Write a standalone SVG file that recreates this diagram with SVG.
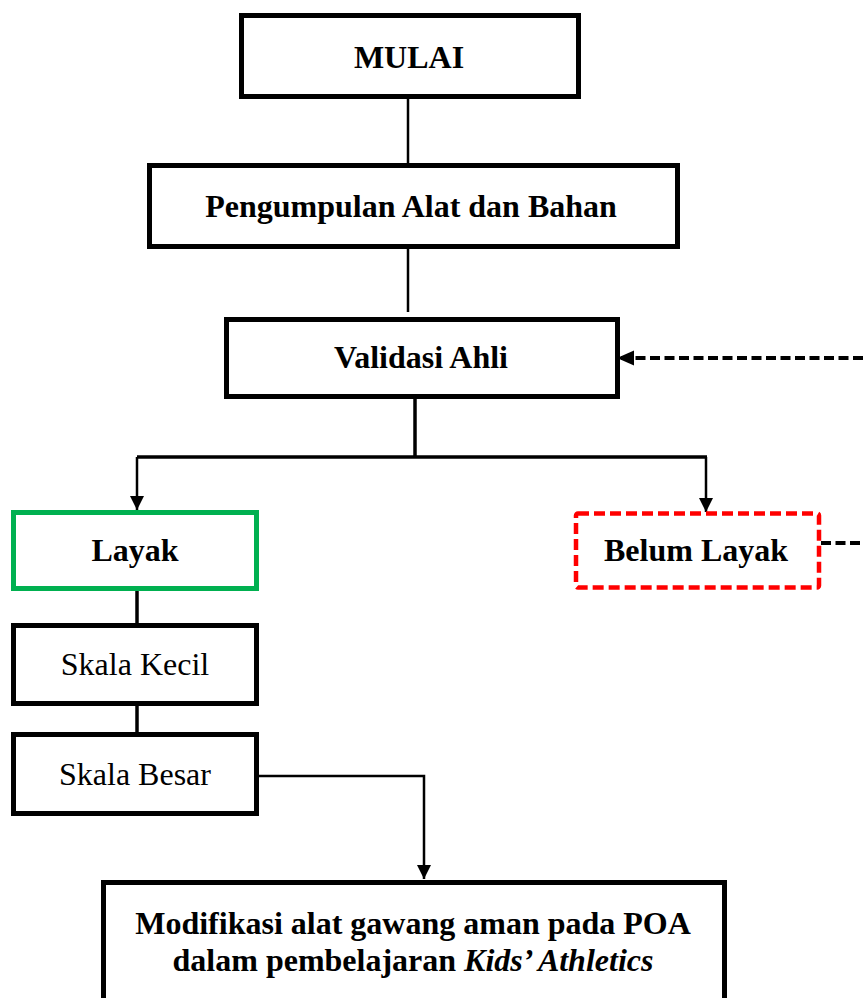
<svg xmlns="http://www.w3.org/2000/svg" width="863" height="998" viewBox="0 0 863 998">
  <style>
    .box { fill: #ffffff; stroke: #000000; stroke-width: 5; }
    .ok { fill: #ffffff; stroke: #00B050; stroke-width: 5; }
    .no { fill: #ffffff; stroke: #FF0000; stroke-width: 4.5; stroke-dasharray: 11 5; }
    .lbl { font-family: "Liberation Serif", "Times New Roman", serif; font-size: 32px; fill: #000000; text-anchor: middle; }
    .b { font-weight: bold; }
    .ln { fill: none; stroke: #000000; stroke-width: 2.5; }
    .thick { fill: none; stroke: #000000; stroke-width: 3.5; }
    .dash { fill: none; stroke: #000000; stroke-width: 4; stroke-dasharray: 10 4.5; }
  </style>
  <defs>
    <marker id="arrow" markerUnits="userSpaceOnUse" markerWidth="14" markerHeight="16" refX="14" refY="7" orient="auto">
      <path d="M0,0 L14,7 L0,14 Z" fill="#000000"/>
    </marker>
    <marker id="arrowL" markerUnits="userSpaceOnUse" markerWidth="17" markerHeight="16" refX="17" refY="7.5" orient="auto">
      <path d="M0,0 L17,7.5 L0,15 Z" fill="#000000"/>
    </marker>
  </defs>

  <rect width="863" height="998" fill="#ffffff"/>

  <g id="connectors">
    <line class="ln" x1="408" y1="98" x2="408" y2="165"/>
    <line class="ln" x1="408" y1="248" x2="408" y2="312"/>
    <line class="thick" x1="415" y1="398" x2="415" y2="457"/>
    <polyline class="thick" points="137,457 707,457"/>
    <line class="ln" x1="137" y1="457" x2="137" y2="510" marker-end="url(#arrow)"/>
    <line class="ln" x1="706" y1="457" x2="706" y2="512" marker-end="url(#arrow)"/>
    <line class="dash" x1="863" y1="358" x2="617" y2="358" marker-end="url(#arrowL)"/>
    <line class="dash" x1="821" y1="543" x2="863" y2="543"/>
    <line class="thick" x1="137" y1="590" x2="137" y2="625"/>
    <line class="thick" x1="137" y1="705" x2="137" y2="734"/>
    <polyline class="ln" points="259,776 424,776 424,879" marker-end="url(#arrow)"/>
  </g>

  <g id="mulai">
    <rect class="box" x="241.5" y="15.5" width="337" height="81"/>
    <text class="lbl b" x="409" y="68">MULAI</text>
  </g>

  <g id="pengumpulan">
    <rect class="box" x="149.5" y="165.5" width="528" height="81"/>
    <text class="lbl b" x="411" y="217">Pengumpulan Alat dan Bahan</text>
  </g>

  <g id="validasi">
    <rect class="box" x="226.5" y="319.5" width="391" height="77"/>
    <text class="lbl b" x="421" y="368">Validasi Ahli</text>
  </g>

  <g id="layak">
    <rect class="ok" x="13.5" y="512.5" width="243" height="76"/>
    <text class="lbl b" x="135" y="561">Layak</text>
  </g>

  <g id="belum-layak">
    <rect class="no" x="576" y="513.5" width="243" height="74" rx="2"/>
    <text class="lbl b" x="696" y="561">Belum Layak</text>
  </g>

  <g id="skala-kecil">
    <rect class="box" x="13.5" y="625.5" width="243" height="78"/>
    <text class="lbl" x="135" y="675">Skala Kecil</text>
  </g>

  <g id="skala-besar">
    <rect class="box" x="13.5" y="734.5" width="243" height="79"/>
    <text class="lbl" x="135" y="785">Skala Besar</text>
  </g>

  <g id="modifikasi">
    <rect class="box" x="103.5" y="882.5" width="621" height="130"/>
    <text class="lbl b" x="413" y="934">Modifikasi alat gawang aman pada POA</text>
    <text class="lbl b" x="413" y="971">dalam pembelajaran <tspan font-style="italic">Kids’ Athletics</tspan></text>
  </g>
</svg>
